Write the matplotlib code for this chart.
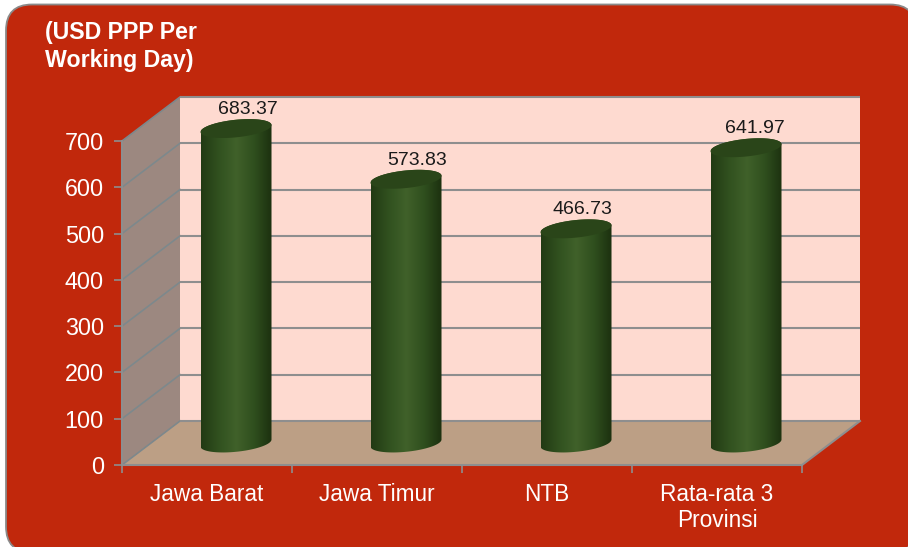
import numpy as np
import matplotlib
matplotlib.use("Agg")
import matplotlib.pyplot as plt
from matplotlib.colors import LinearSegmentedColormap
from matplotlib.patches import FancyBboxPatch, Polygon

categories = ["Jawa Barat", "Jawa Timur", "NTB", "Rata-rata 3\nProvinsi"]
values = [683.37, 573.83, 466.73, 641.97]
y_ticks = [0, 100, 200, 300, 400, 500, 600, 700]
title_lines = "(USD PPP Per\nWorking Day)"

RED = "#C1280C"
GRID = "#8E8E8E"
W, H = 908, 547

# depth of the fake 3d box, in data units
DX = 58 / 170
DY = 44 / (324 / 700)
# cylinder shape, in data units
RX = 35.5 / 170
RY = 19
TILT = 7.5
# label nudge in pixels
label_dx = [12, 11, 6, 9]

plt.rcParams["font.family"] = ["Liberation Sans", "DejaVu Sans"]

fig = plt.figure(figsize=(W / 100, H / 100), dpi=100, facecolor="white")

bg = fig.add_axes([0, 0, 1, 1], zorder=0)
bg.set_xlim(0, W)
bg.set_ylim(H, 0)
bg.axis("off")
bg.add_patch(FancyBboxPatch((30, 28.5), 862, 500, boxstyle="round,pad=24,rounding_size=26",
                            fc=RED, ec="#8A8A8A", lw=1.3))
bg.text(45, 46.5, title_lines, color="white", fontsize=16.7, fontweight="bold",
        linespacing=1.28, ha="left", va="center")

ax = fig.add_axes([122 / W, 1 - 465 / H, 680 / W, 324 / H], zorder=1)
ax.patch.set_alpha(0)
ax.set_xlim(-0.5, 3.5)
ax.set_ylim(0, 700)

x0, x1 = -0.5, 3.5
top = y_ticks[-1]
ax.add_patch(Polygon([(x0 + DX, DY), (x1 + DX, DY), (x1 + DX, top + DY), (x0 + DX, top + DY)],
                     fc="#FEDAD0", ec="none", clip_on=False, zorder=1))
ax.add_patch(Polygon([(x0, 0), (x0 + DX, DY), (x0 + DX, top + DY), (x0, top)],
                     fc="#9C8880", ec="none", clip_on=False, zorder=1))
ax.add_patch(Polygon([(x0, 0), (x1, 0), (x1 + DX, DY), (x0 + DX, DY)],
                     fc="#BC9F85", ec="none", clip_on=False, zorder=1))

for v in y_ticks:
    ax.plot([x0, x0 + DX], [v, v + DY], color="#7D888C", lw=1.2, clip_on=False, zorder=2)
    ax.plot([x0 + DX, x1 + DX], [v + DY, v + DY], color=GRID, lw=1.5,
            clip_on=False, zorder=2, solid_capstyle="butt")
ax.plot([x1, x1 + DX], [0, DY], color=GRID, lw=1.5, clip_on=False, zorder=2)

cyl = LinearSegmentedColormap.from_list("cyl", ["#223A14", "#31511F", "#40612A", "#2F4F1E", "#1C300F"])
grad = np.linspace(0, 1, 256).reshape(1, -1)
t = np.linspace(0, 2 * np.pi, 121)

for i, val in enumerate(values):
    cx = i + DX / 2
    base = DY / 2
    head = val + DY / 2 - 4
    ts = np.linspace(np.pi, 2 * np.pi, 61)
    low_x = cx + RX * np.cos(ts)
    low_y = base + RY * np.sin(ts) + TILT * np.cos(ts)
    up_x = cx + RX * np.cos(ts[::-1])
    up_y = head - RY * np.sin(ts[::-1]) + TILT * np.cos(ts[::-1])
    body = Polygon(np.column_stack([np.r_[low_x, up_x], np.r_[low_y, up_y]]),
                   fc="none", ec="none", transform=ax.transData)
    ax.add_patch(body)
    im = ax.imshow(grad, cmap=cyl, aspect="auto", zorder=3,
                   extent=(cx - RX, cx + RX, base - RY - TILT, head + RY + TILT))
    im.set_clip_box(fig.bbox)
    im.set_clip_path(body)
    ax.fill(cx + RX * np.cos(t), head + RY * np.sin(t) + TILT * np.cos(t),
            color="#2A4519", zorder=4, clip_on=False, lw=0)
    ax.annotate(f"{val:.2f}", (cx, head), xytext=(label_dx[i], 19), textcoords="offset pixels",
                ha="center", va="center", fontsize=14, color="#1A1A1A", zorder=5,
                annotation_clip=False)

ax.set_xlim(-0.5, 3.5)
ax.set_ylim(0, 700)

for name in ["top", "right"]:
    ax.spines[name].set_visible(False)
for name in ["left", "bottom"]:
    ax.spines[name].set_color(GRID)
    ax.spines[name].set_linewidth(1.5)
    ax.spines[name].set_zorder(2.5)

ax.set_yticks(y_ticks)
ax.tick_params(axis="y", colors=GRID, labelcolor="white", labelsize=16.8, length=6, width=1.2, pad=7)
ax.set_xticks(range(len(categories)))
ax.set_xticklabels(categories)
ax.set_xticks(np.arange(-0.5, 4, 1), minor=True)
ax.tick_params(axis="x", which="major", length=0, labelcolor="white", labelsize=16.3, pad=13)
ax.tick_params(axis="x", which="minor", colors=GRID, length=6, width=1.2)
for lab in ax.get_xticklabels():
    lab.set_linespacing(1.15)

fig.savefig("out.png", dpi=100, facecolor="white")
